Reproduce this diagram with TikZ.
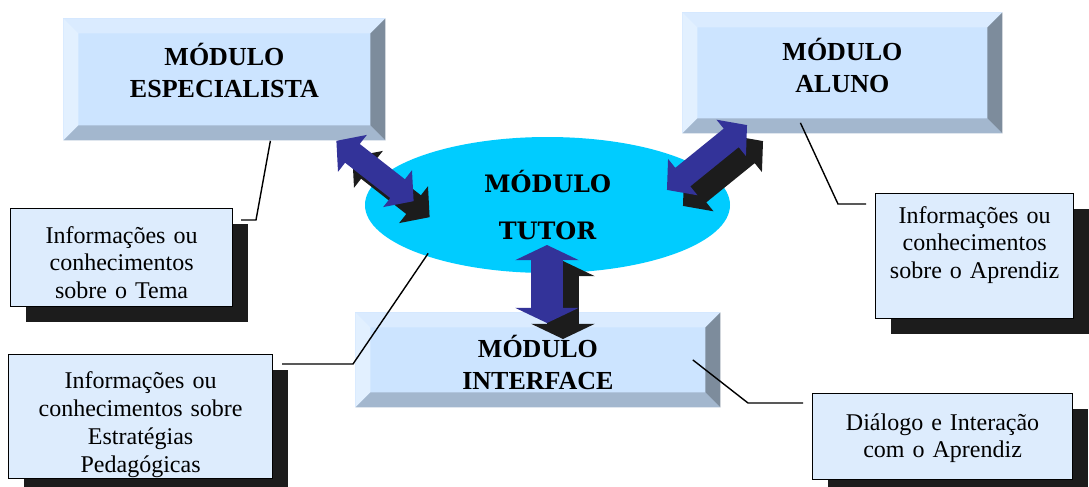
\documentclass[tikz,border=0pt]{standalone}
\usepackage{fontspec}
\setmainfont{Liberation Serif}
\newfontfamily\tutorfont{DejaVu Serif}
\usepackage{tikz}
\usetikzlibrary{shapes.geometric, shapes.arrows, shadows}
\definecolor{facebl}{RGB}{204,228,255}
\definecolor{bevtop}{RGB}{218,235,255}
\definecolor{bevleft}{RGB}{226,240,255}
\definecolor{bevbot}{RGB}{163,183,206}
\definecolor{bevright}{RGB}{125,140,156}
\definecolor{callfill}{RGB}{221,236,253}
\definecolor{tutorcyan}{RGB}{0,204,255}
\definecolor{arrowblue}{RGB}{51,51,153}
\definecolor{shade}{RGB}{28,28,28}
\tikzstyle{modulo} = [rectangle, 
anchor=north west, 
inner sep=0pt, 
fill=facebl, 
align=center, 
text height=12pt, 
font=\fontsize{13}{16}\selectfont\bfseries,
path picture={
  \coordinate (pnw) at (path picture bounding box.north west);
  \coordinate (pne) at (path picture bounding box.north east);
  \coordinate (psw) at (path picture bounding box.south west);
  \coordinate (pse) at (path picture bounding box.south east);
  \fill[bevtop] (pnw) -- (pne) -- ([shift={(-7.5pt,-7.5pt)}]pne) -- ([shift={(7.5pt,-7.5pt)}]pnw) -- cycle;
  \fill[bevleft] (pnw) -- ([shift={(7.5pt,-7.5pt)}]pnw) -- ([shift={(7.5pt,7.5pt)}]psw) -- (psw) -- cycle;
  \fill[bevbot] (psw) -- ([shift={(7.5pt,7.5pt)}]psw) -- ([shift={(-7.5pt,7.5pt)}]pse) -- (pse) -- cycle;
  \fill[bevright] (pse) -- ([shift={(-7.5pt,7.5pt)}]pse) -- ([shift={(-7.5pt,-7.5pt)}]pne) -- (pne) -- cycle;
}]
\tikzstyle{callout} = [rectangle, 
anchor=north west, 
draw=black, 
line width=0.6pt, 
fill=callfill, 
align=center, 
inner sep=3pt, 
font=\fontsize{12}{13.6}\selectfont,
drop shadow={shadow xshift=7.5pt, shadow yshift=-7.5pt, fill=shade, opacity=1}]
\tikzstyle{twoway} = [double arrow, 
fill=arrowblue, 
inner xsep=0pt, 
inner ysep=5.75pt, 
double arrow head extend=5.75pt, 
double arrow tip angle=98]
\tikzstyle{twowayshade} = [twoway, fill=shade]
\tikzstyle{link} = [line width=0.7pt, black]

\begin{document}
\begin{tikzpicture}[x=0.5pt, y=-0.5pt]
    \useasboundingbox (0,0) rectangle (1089,487);

    \node (tutor) [ellipse, fill=tutorcyan, minimum width=182.5pt, minimum height=68pt, align=center, font=\fontsize{12}{23.5}\selectfont\tutorfont\bfseries] at (547.5,205) {MÓDULO\\TUTOR};

    \node (esp) [modulo, text width=161pt, text depth=26pt, minimum height=61pt] at (63,18) {MÓDULO\\ESPECIALISTA};
    \node (aluno) [modulo, text width=160pt, text depth=24.5pt, minimum height=60.5pt] at (682,12) {MÓDULO\\ALUNO};
    \node (interface) [modulo, text width=182.5pt, text depth=14.5pt, minimum height=47.5pt] at (355,312) {MÓDULO\\INTERFACE};

    \node (tema) [callout, text width=105pt, text height=14.5pt, text depth=28.5pt] at (10,208) {Informações ou\\conhecimentos\\sobre o Tema};
    \node (estrat) [callout, text width=126pt, text height=14pt, text depth=42pt, font=\fontsize{12}{13.9}\selectfont] at (8,354) {Informações ou\\conhecimentos sobre\\Estratégias\\Pedagógicas};
    \node (aprendiz) [callout, text width=93pt, text height=12pt, text depth=44.5pt] at (875,193) {Informações ou\\conhecimentos\\sobre o Aprendiz};
    \node (dialogo) [callout, text width=124pt, text height=15.5pt, text depth=21.5pt] at (812,393) {Diálogo e Interação\\com o Aprendiz};

    \coordinate (kTema) at (256,220);
    \coordinate (kAluno) at (838,204);
    \coordinate (kTutor) at (353,364);
    \coordinate (kInter) at (748,403);
    \draw [link] ([xshift=23pt]esp.south) -- (kTema) -- ([shift={(4pt,-6pt)}]tema.north east);
    \draw [link] ([shift={(-21pt,5.5pt)}]aluno.south) -- (kAluno) -- ([shift={(-4.5pt,-5.5pt)}]aprendiz.north west);
    \draw [link] ([xshift=5pt]tutor.south west) -- (kTutor) -- ([shift={(4.5pt,-5pt)}]estrat.north east);
    \draw [link] ([xshift=-14pt]interface.east) -- (kInter) -- ([shift={(-4.5pt,-5pt)}]dialogo.north west);

    \node (esptutorshade) [twowayshade, rotate=-38, minimum height=49pt] at (391,187) {};
    \node (esptutor) [twoway, rotate=-38, minimum height=49pt] at (375,171) {};
    \node (alunotutorshade) [twowayshade, rotate=39, minimum height=51.5pt] at (723,173.5) {};
    \node (alunotutor) [twoway, rotate=39, minimum height=51.5pt] at (707,157.5) {};
    \node (tutorintershade) [twowayshade, rotate=90, minimum height=39pt, inner ysep=7.75pt, double arrow head extend=8pt, double arrow tip angle=129] at (563,300) {};
    \node (tutorinter) [twoway, rotate=90, minimum height=39pt, inner ysep=7.75pt, double arrow head extend=8pt, double arrow tip angle=129] at (547,284) {};
\end{tikzpicture}
\end{document}
